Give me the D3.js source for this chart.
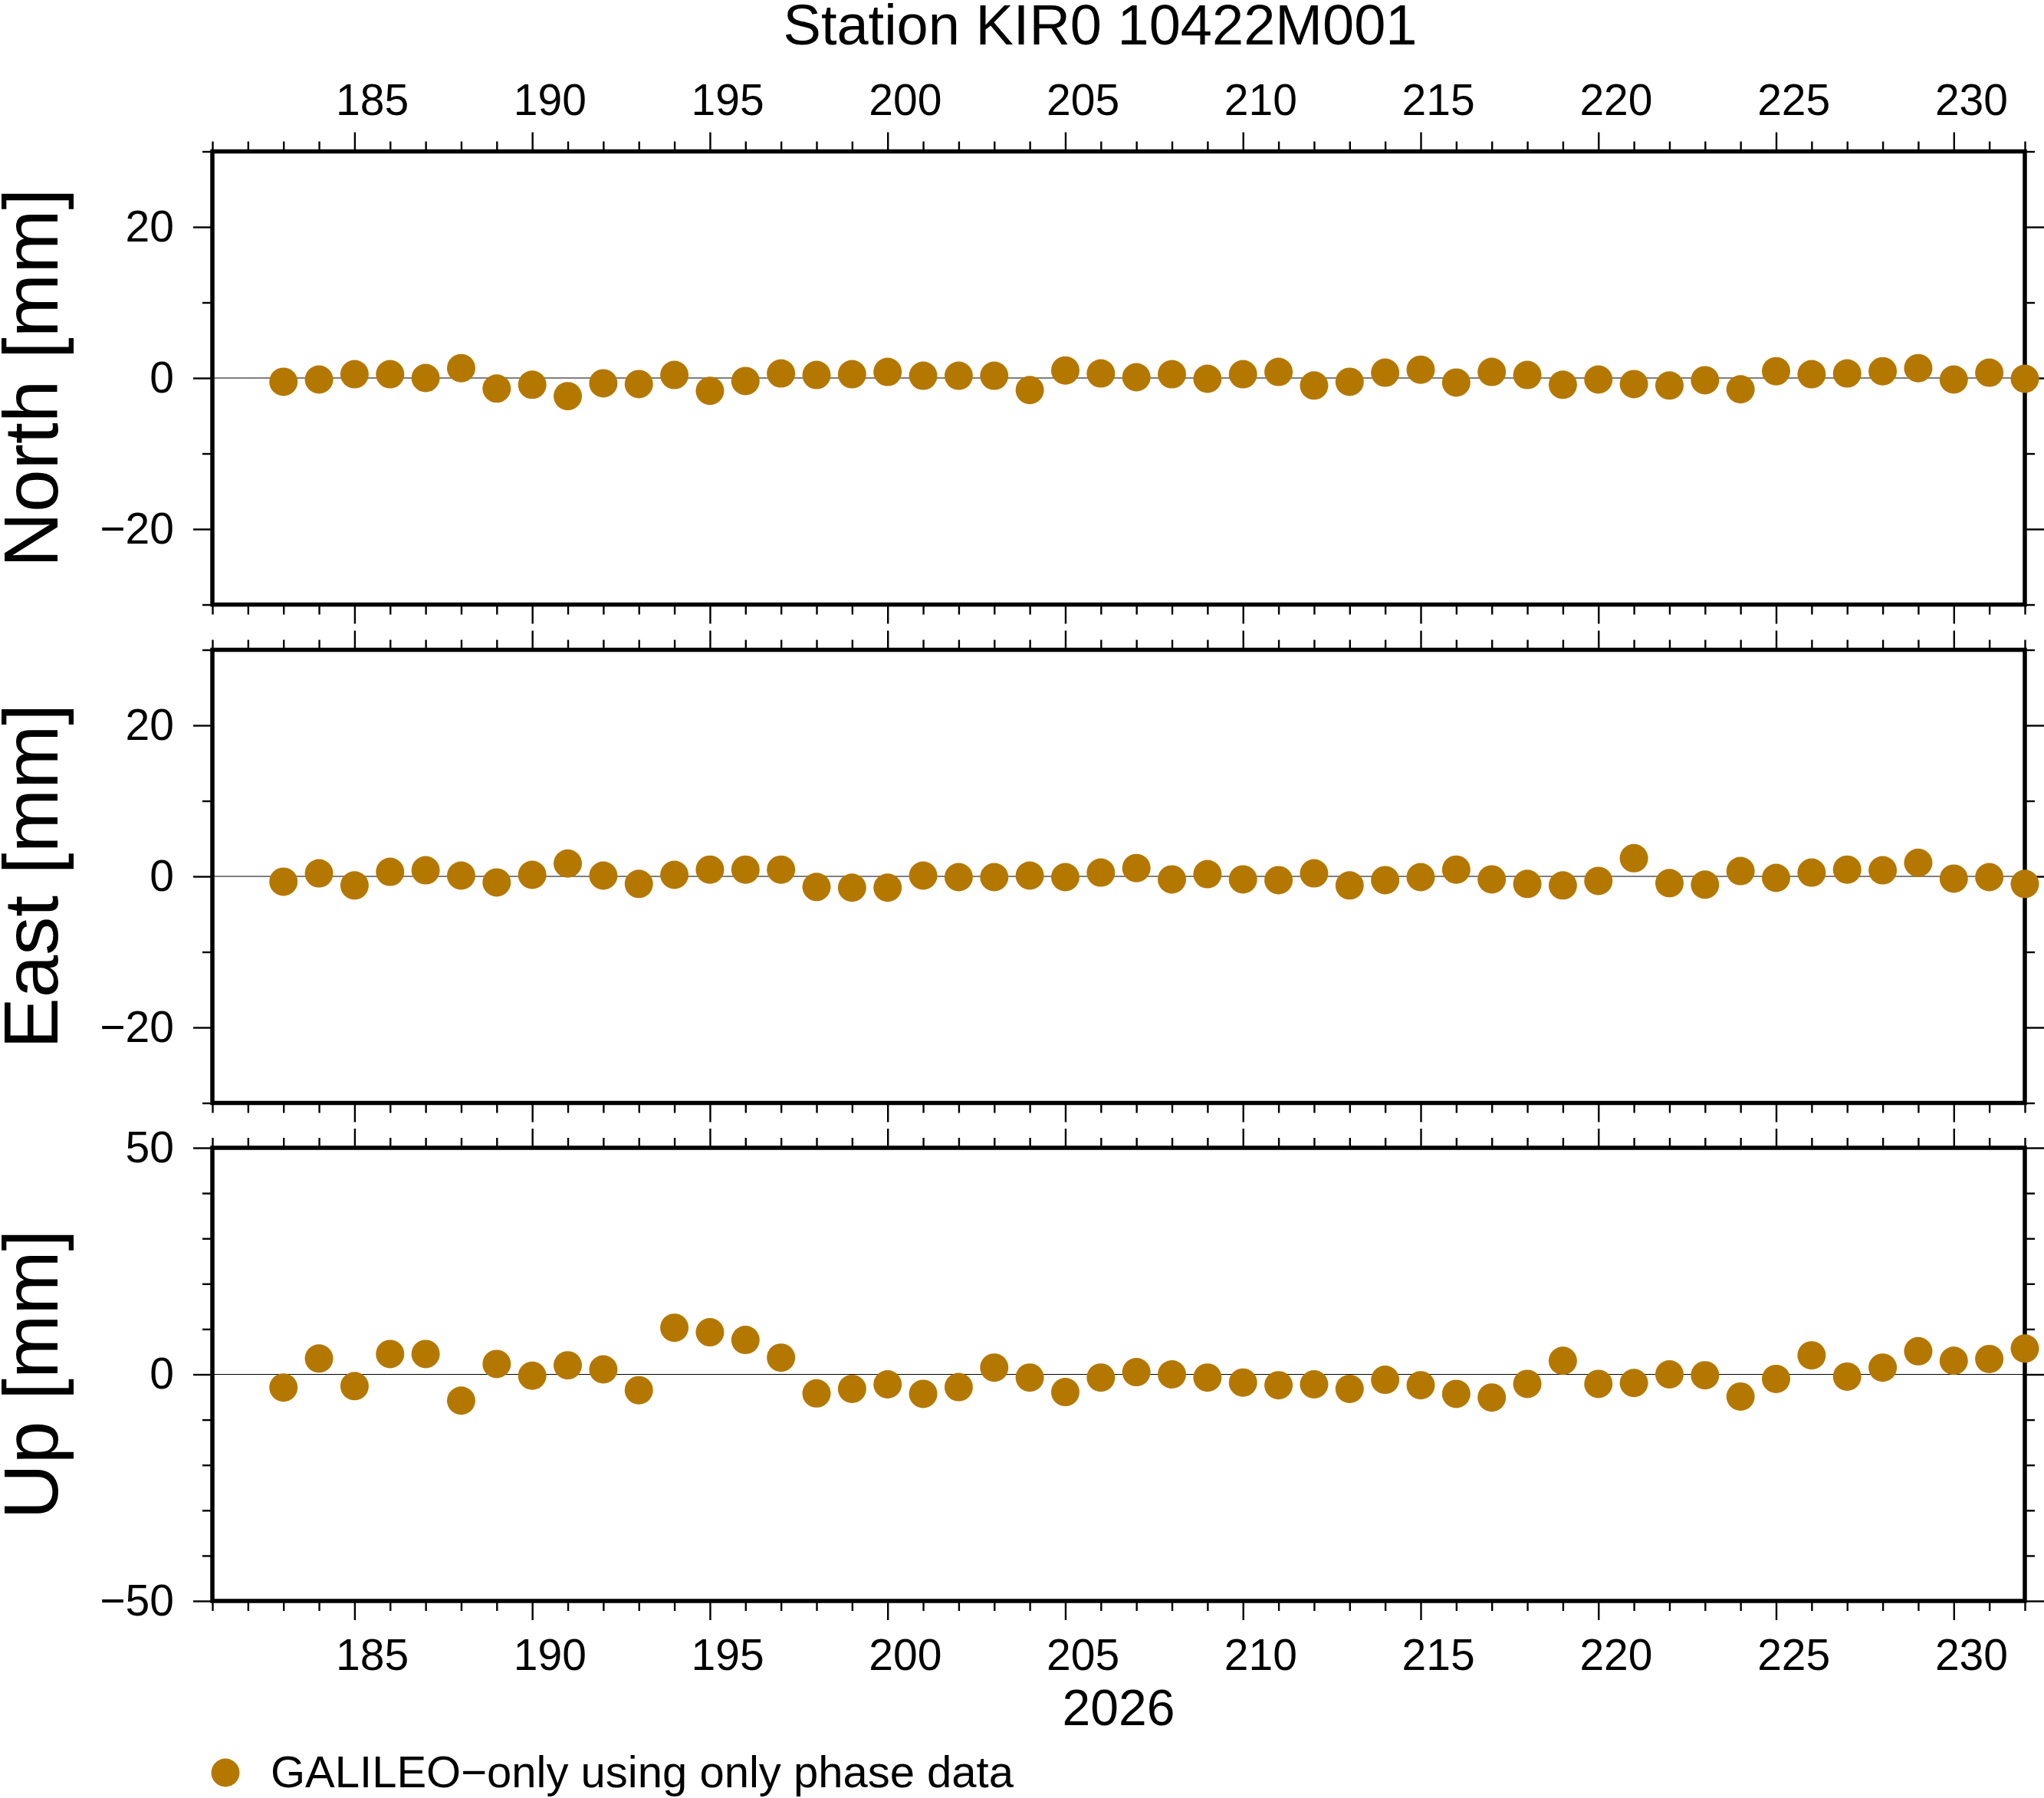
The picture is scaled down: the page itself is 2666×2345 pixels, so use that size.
<!DOCTYPE html>
<html>
<head>
<meta charset="utf-8">
<script src="https://cdn.jsdelivr.net/npm/d3@7"></script>
<style>
body { margin: 0; background: #fff; }
text { font-family: "Liberation Sans", Arial, Helvetica, sans-serif; fill: #000; }
</style>
</head>
<body>
<svg id="chart" width="2666" height="2345"></svg>
<script>
var title = "Station KIR0 10422M001";
var yearLabel = "2026";
var legendLabel = "GALILEO\u2212only using only phase data";

// day of year of each solution
var days = [183,184,185,186,187,188,189,190,191,192,193,194,195,196,197,198,199,200,
	201,202,203,204,205,206,207,208,209,210,211,212,213,214,215,216,217,218,219,220,
	221,222,223,224,225,226,227,228,229,230,231,232];

var north = [-0.5,-0.2,0.5,0.5,0.0,1.3,-1.4,-0.9,-2.4,-0.7,-0.8,0.4,-1.7,-0.4,0.6,0.4,0.5,0.8,
	0.3,0.3,0.3,-1.6,1.0,0.6,0.1,0.5,-0.1,0.5,0.8,-1.0,-0.5,0.7,1.1,-0.6,0.8,0.4,-0.9,-0.2,
	-0.8,-1.0,-0.3,-1.5,0.9,0.5,0.6,0.9,1.3,-0.2,0.7,-0.1];

var east = [-0.7,0.4,-1.2,0.6,0.8,0.1,-0.8,0.2,1.7,0.1,-1.0,0.2,0.9,0.9,0.9,-1.4,-1.5,-1.5,
	0.1,-0.1,-0.1,0.1,-0.1,0.5,1.1,-0.4,0.3,-0.4,-0.5,0.4,-1.2,-0.5,-0.1,0.9,-0.4,-1.0,-1.2,-0.6,
	2.4,-0.9,-1.1,0.7,-0.2,0.5,0.9,0.8,1.8,-0.3,-0.1,-1.0];

var up = [-2.9,3.5,-2.6,4.5,4.5,-5.8,2.3,-0.3,2.0,1.1,-3.5,10.3,9.3,7.6,3.7,-4.2,-3.2,-2.2,
	-4.3,-2.8,1.5,-0.7,-3.9,-0.7,0.5,0.0,-0.7,-1.8,-2.4,-2.2,-3.2,-1.2,-2.4,-4.3,-5.1,-2.1,3.0,-2.1,
	-1.9,0.0,-0.2,-4.9,-1.0,4.2,-0.5,1.5,5.1,3.0,3.4,5.7];

var xDomain = [181, 232];
var dayLabels = [185,190,195,200,205,210,215,220,225,230];

var panelNames = ["North [mm]", "East [mm]", "Up [mm]"];
var panelSeries = [north, east, up];
var panelDomains = [[-30, 30], [-30, 30], [-50, 50]];
var panelMajor = [[-20, 0, 20], [-20, 0, 20], [-50, 0, 50]];
var panelMinor = [[-30, -10, 10, 30], [-30, -10, 10, 30], [-40, -30, -20, -10, 10, 20, 30, 40]];

var dotColor = "#b47800";
var fontFamily = '"Liberation Sans", Arial, Helvetica, sans-serif';

var left = 277, right = 2641;
var panelTops = [197.5, 847.5, 1497];
var panelH = 591;
var majorLen = 25, minorLen = 13;
var tickFont = 57;

var svg = d3.select("#chart");

var x = d3.scaleLinear().domain(xDomain).range([left, right]);
var minorDays = d3.range(xDomain[0], xDomain[1] + 1).filter(function(d) { return dayLabels.indexOf(d) == -1; });

var fmt = function(d) { return d < 0 ? "\u2212" + Math.abs(d) : String(d); };

var styleAxis = function(g) {
	g.select(".domain").remove();
	g.selectAll(".tick line").attr("stroke", "#000").attr("stroke-width", 2.4);
	g.attr("font-family", fontFamily).attr("font-size", tickFont);
};

// title
svg.append("text")
	.attr("x", 1435)
	.attr("y", 58)
	.attr("text-anchor", "middle")
	.attr("font-size", 74)
	.text(title);

panelSeries.forEach(function(values, i) {
	var top = panelTops[i];
	var y = d3.scaleLinear().domain(panelDomains[i]).range([top + panelH, top]);
	var g = svg.append("g").attr("class", "panel");

	// x ticks top and bottom
	g.append("g").attr("transform", "translate(0," + top + ")")
		.call(d3.axisTop(x).tickValues(dayLabels).tickSize(majorLen).tickFormat("")).call(styleAxis);
	g.append("g").attr("transform", "translate(0," + top + ")")
		.call(d3.axisTop(x).tickValues(minorDays).tickSize(minorLen).tickFormat("")).call(styleAxis);
	g.append("g").attr("transform", "translate(0," + (top + panelH) + ")")
		.call(d3.axisBottom(x).tickValues(dayLabels).tickSize(majorLen).tickFormat("")).call(styleAxis);
	g.append("g").attr("transform", "translate(0," + (top + panelH) + ")")
		.call(d3.axisBottom(x).tickValues(minorDays).tickSize(minorLen).tickFormat("")).call(styleAxis);

	// y ticks left (labelled) and right
	g.append("g").attr("transform", "translate(" + left + ",0)")
		.call(d3.axisLeft(y).tickValues(panelMajor[i]).tickSize(majorLen).tickPadding(25).tickFormat(fmt)).call(styleAxis);
	g.append("g").attr("transform", "translate(" + left + ",0)")
		.call(d3.axisLeft(y).tickValues(panelMinor[i]).tickSize(minorLen).tickFormat("")).call(styleAxis);
	g.append("g").attr("transform", "translate(" + right + ",0)")
		.call(d3.axisRight(y).tickValues(panelMajor[i]).tickSize(majorLen).tickFormat("")).call(styleAxis);
	g.append("g").attr("transform", "translate(" + right + ",0)")
		.call(d3.axisRight(y).tickValues(panelMinor[i]).tickSize(minorLen).tickFormat("")).call(styleAxis);

	// zero line
	g.append("line")
		.attr("x1", left).attr("x2", right)
		.attr("y1", y(0)).attr("y2", y(0))
		.attr("stroke", "#000")
		.attr("stroke-width", 1.2);

	// frame
	g.append("rect")
		.attr("x", left).attr("y", top)
		.attr("width", right - left).attr("height", panelH)
		.attr("fill", "none")
		.attr("stroke", "#000")
		.attr("stroke-width", 5.5);

	// axis title
	var cy = top + panelH / 2;
	g.append("text")
		.attr("transform", "translate(75," + cy + ") rotate(-90)")
		.attr("text-anchor", "middle")
		.attr("font-size", 100)
		.text(panelNames[i]);

	// points
	g.selectAll("circle.pt").data(values)
		.enter().append("circle")
		.attr("class", "pt")
		.attr("cx", function(d, j) { return x(days[j]); })
		.attr("cy", function(d) { return y(d); })
		.attr("r", 18.5)
		.attr("fill", dotColor);

	// day labels, centred on each day interval
	if (i == 0) {
		g.selectAll("text.daytop").data(dayLabels)
			.enter().append("text")
			.attr("class", "daytop")
			.attr("x", function(d) { return x(d + 0.5); })
			.attr("y", 150)
			.attr("text-anchor", "middle")
			.attr("font-size", tickFont)
			.text(function(d) { return d; });
	}
	if (i == panelSeries.length - 1) {
		g.selectAll("text.daybot").data(dayLabels)
			.enter().append("text")
			.attr("class", "daybot")
			.attr("x", function(d) { return x(d + 0.5); })
			.attr("y", 2178)
			.attr("text-anchor", "middle")
			.attr("font-size", tickFont)
			.text(function(d) { return d; });
	}
});

svg.append("text")
	.attr("x", (left + right) / 2)
	.attr("y", 2250)
	.attr("text-anchor", "middle")
	.attr("font-size", 66)
	.text(yearLabel);

// legend
svg.append("circle")
	.attr("cx", 294).attr("cy", 2312)
	.attr("r", 18.5)
	.attr("fill", dotColor);
svg.append("text")
	.attr("x", 353)
	.attr("y", 2331)
	.attr("font-size", 58)
	.text(legendLabel);
</script>
</body>
</html>
